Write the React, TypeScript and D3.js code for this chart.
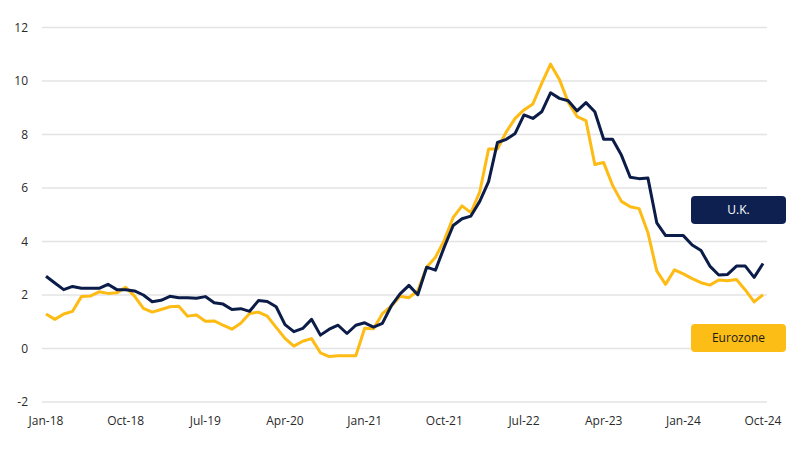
import React from "react";
import * as d3 from "d3";

const tickLabels = ["Jan-18", "Oct-18", "Jul-19", "Apr-20", "Jan-21", "Oct-21", "Jul-22", "Apr-23", "Jan-24", "Oct-24"];
const yTicks = [-2, 0, 2, 4, 6, 8, 10, 12];

const ukValues = [
  2.7, 2.45, 2.2, 2.32, 2.25, 2.25, 2.25, 2.4, 2.2, 2.2, 2.15, 2.0,
  1.75, 1.8, 1.95, 1.9, 1.9, 1.88, 1.94, 1.71, 1.66, 1.46, 1.49, 1.39,
  1.79, 1.76, 1.56, 0.89, 0.63, 0.75, 1.09, 0.5, 0.72, 0.87, 0.56, 0.87,
  0.96, 0.8, 0.94, 1.59, 2.04, 2.36, 2.01, 3.04, 2.93, 3.8, 4.6, 4.85,
  4.95, 5.5, 6.24, 7.7, 7.82, 8.04, 8.73, 8.6, 8.85, 9.56, 9.35, 9.26,
  8.88, 9.19, 8.85, 7.82, 7.82, 7.23, 6.4, 6.35, 6.37, 4.7, 4.22, 4.22,
  4.22, 3.87, 3.66, 3.08, 2.75, 2.77, 3.08, 3.08, 2.66, 3.18,
];

const euroValues = [
  1.29, 1.09, 1.29, 1.39, 1.94, 1.96, 2.12, 2.06, 2.08, 2.29, 1.96, 1.5,
  1.36, 1.46, 1.56, 1.58, 1.21, 1.25, 1.02, 1.03, 0.87, 0.72, 0.94, 1.31,
  1.36, 1.21, 0.79, 0.38, 0.09, 0.27, 0.37, -0.16, -0.3, -0.27, -0.27, -0.27,
  0.76, 0.74, 1.3, 1.58, 1.95, 1.9, 2.16, 3.04, 3.41, 4.05, 4.9, 5.33,
  5.08, 5.85, 7.46, 7.46, 8.1, 8.6, 8.92, 9.14, 9.91, 10.63, 10.06, 9.2,
  8.67, 8.52, 6.88, 6.95, 6.1, 5.5, 5.3, 5.23, 4.33, 2.9, 2.4, 2.94,
  2.79, 2.61, 2.46, 2.37, 2.56, 2.53, 2.58, 2.19, 1.74, 2.01,
];

const W = 800;
const H = 450;
const FONT = "'Open Sans', 'Noto Sans', sans-serif";

export default function App() {
  const x = d3.scaleLinear().domain([0, ukValues.length - 1]).range([46, 763]);
  const y = d3.scaleLinear().domain([-2, 12]).range([402, 27.5]);
  const line = d3
    .line<number>()
    .x((_, i) => x(i))
    .y((d) => y(d));

  return (
    <svg
      width={W}
      height={H}
      style={{ position: "absolute", left: 0, top: 0, background: "#fff" }}
    >
      {yTicks.map((t) => (
        <g key={t}>
          <line x1={42} x2={767} y1={y(t)} y2={y(t)} stroke="#e3e3e3" strokeWidth={1.3} />
          <text
            x={28}
            y={y(t)}
            dy="0.35em"
            textAnchor="end"
            fontFamily={FONT}
            fontSize={12}
            fill="#2a2a2a"
          >
            {t}
          </text>
        </g>
      ))}
      {tickLabels.map((lab, k) => (
        <text
          key={lab}
          x={x(k * 9)}
          y={421}
          dy="0.35em"
          textAnchor="middle"
          fontFamily={FONT}
          fontSize={12}
          fill="#2a2a2a"
        >
          {lab}
        </text>
      ))}
      <path d={line(euroValues) || ""} fill="none" stroke="#fdbb14" strokeWidth={3} strokeLinejoin="round" />
      <path d={line(ukValues) || ""} fill="none" stroke="#0c1c48" strokeWidth={3} strokeLinejoin="round" />
      <g>
        <rect x={691} y={196} width={95} height={28} rx={4} fill="#0e204f" />
        <text x={738.5} y={210} dy="0.35em" textAnchor="middle" fontFamily={FONT} fontSize={12} fill="#fff">
          U.K.
        </text>
        <rect x={691} y={324} width={95} height={28} rx={4} fill="#fcbd17" />
        <text x={738.5} y={338} dy="0.35em" textAnchor="middle" fontFamily={FONT} fontSize={12} fill="#1a1a1a">
          Eurozone
        </text>
      </g>
    </svg>
  );
}
